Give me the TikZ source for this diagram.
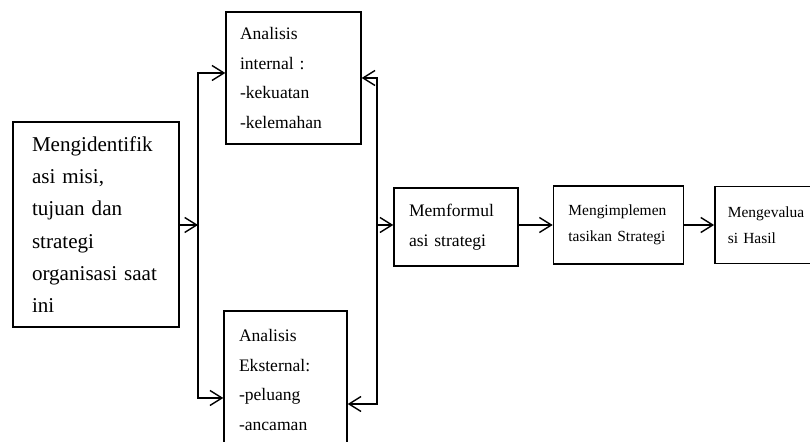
\documentclass[tikz,border=0pt]{standalone}
\usepackage{fontspec}
\setmainfont{Liberation Serif}
\usepackage{tikz}
\usetikzlibrary{arrows.meta, positioning}

\begin{document}
\begin{tikzpicture}[>={Straight Barb[length=2.4mm, width=3mm, line width=0.8pt]}, line width=0.8pt,
    kotak/.style={draw, rectangle, align=left, inner ysep=0pt, inner xsep=0.3cm},
    besar/.style={font=\fontsize{12}{18.4}\selectfont},
    sedang/.style={font=\fontsize{10}{16.8}\selectfont},
    kecil/.style={font=\fontsize{8.8}{14.5}\selectfont}]

        \useasboundingbox (0,0) rectangle (16.2,8.84);
        \clip (0,0) rectangle (16.2,8.84);

        \node[kotak, besar, inner xsep=0.38cm, text width=2.56cm, minimum height=4.1cm] (misi) at (1.92,4.35) {Mengidentifik\\asi misi,\\tujuan dan\\strategi\\\mbox{organisasi saat}\\ini};

        \node[kotak, sedang, inner xsep=0.28cm, text width=2.14cm, minimum height=2.64cm] (intern) at (5.87,7.28) {Analisis\\internal :\\-kekuatan\\-kelemahan};

        \node[kotak, sedang, text width=1.86cm, minimum height=2.76cm] (ekstern) at (5.71,1.24) {Analisis\\Eksternal:\\-peluang\\-ancaman};

        \node[kotak, sedang, text width=1.88cm, minimum height=1.56cm] (formul) at (9.12,4.3) {Memformul\\asi strategi};

        \node[kotak, kecil, text width=2.0cm, minimum height=1.56cm, right=0.68cm of formul, yshift=0.04cm] (implement) {Mengimplemen\\tasikan Strategi};

        \node[kotak, kecil, inner xsep=0.26cm, text width=1.68cm, minimum height=1.54cm, right=0.6cm of implement] (evaluasi) {Mengevalua\\si Hasil};

        \coordinate (kiri) at (3.96,4.34);
        \coordinate (kanan) at (7.54,4.34);

        \draw[->] (misi.east |- kiri) -- (kiri);
        \draw[->] (kiri) |- ([yshift=1mm]intern.west);
        \draw[->] (kiri) |- ([yshift=-3.6mm]ekstern.west);
        \draw[->] (kanan) |- (intern.east);
        \draw[->] (kanan) |- ([yshift=-4.8mm]ekstern.east);
        \draw[->] (kanan) -- (formul.west |- kanan);
        \draw[->] (formul.east |- kanan) -- (implement.west |- kanan);
        \draw[->] (implement.east |- kanan) -- (evaluasi.west |- kanan);

\end{tikzpicture}
\end{document}
